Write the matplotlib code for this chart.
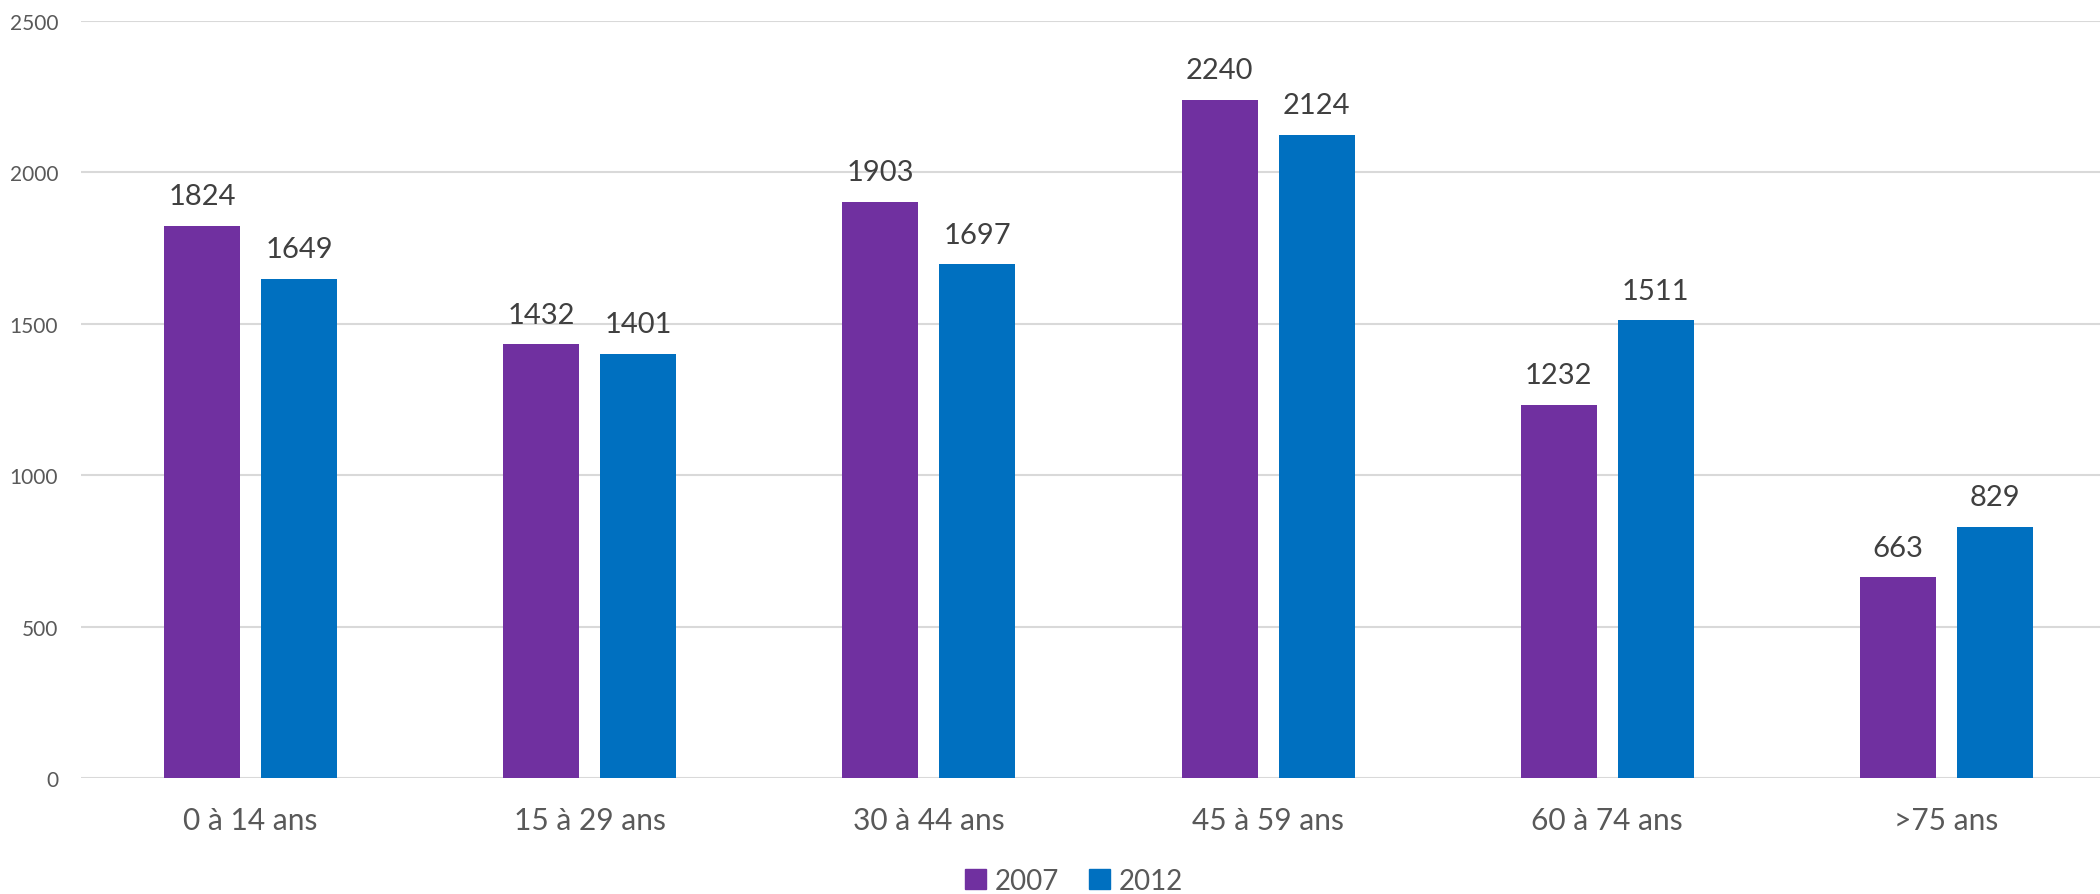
import matplotlib
matplotlib.use("Agg")
import matplotlib.pyplot as plt
import numpy as np
from matplotlib.patches import Patch

categories = ["0 à 14 ans", "15 à 29 ans", "30 à 44 ans", "45 à 59 ans", "60 à 74 ans", ">75 ans"]
series_names = ["2007", "2012"]
values_2007 = [1824, 1432, 1903, 2240, 1232, 663]
values_2012 = [1649, 1401, 1697, 2124, 1511, 829]
yticks = [0, 500, 1000, 1500, 2000, 2500]

col_2007 = "#7030A0"
col_2012 = "#0070C0"
txt_col = "#595959"
lbl_col = "#404040"

plt.rcParams['font.family'] = ['Lato', 'DejaVu Sans']

W, H = 2100, 895
fig = plt.figure(figsize=(W / 100, H / 100), dpi=100)
left, right, top, bottom = 81, 2116, 22, 779
ax = fig.add_axes([left / W, 1 - bottom / H, (right - left) / W, (bottom - top) / H])

x = np.arange(len(categories))
bw = 0.224
off = 0.143
b1 = ax.bar(x - off, values_2007, bw, color=col_2007, zorder=3)
b2 = ax.bar(x + off, values_2012, bw, color=col_2012, zorder=3)

for bars, vals in ((b1, values_2007), (b2, values_2012)):
    for r, v in zip(bars, vals):
        ax.annotate(str(v), (r.get_x() + r.get_width() / 2, v), xytext=(0, 15.5),
                    textcoords="offset points", ha="center", va="baseline",
                    fontsize=21, color=lbl_col)

ax.set_xlim(-0.5, len(categories) - 0.5)
ax.set_ylim(0, 2500)
ax.set_yticks(yticks)
ax.set_yticklabels([str(t) for t in yticks])
ax.set_xticks(x)
ax.set_xticklabels(categories)
ax.tick_params(axis="y", length=0, pad=16.5, labelsize=15, labelcolor=txt_col)
ax.tick_params(axis="x", length=0, pad=20, labelsize=21.5, labelcolor=txt_col)
ax.grid(axis="y", color="#D9D9D9", linewidth=1.5, zorder=0)
for s in ax.spines.values():
    s.set_visible(False)

handles = [Patch(color=col_2007), Patch(color=col_2012)]
fig.legend(handles, series_names, loc="center", bbox_to_anchor=(1074 / W, 1 - 882 / H),
           ncol=2, frameon=False, fontsize=20, labelcolor=txt_col,
           handlelength=0.75, handleheight=0.75, handletextpad=0.3, columnspacing=1.1,
           borderpad=0)

fig.savefig("out.png", dpi=100)
